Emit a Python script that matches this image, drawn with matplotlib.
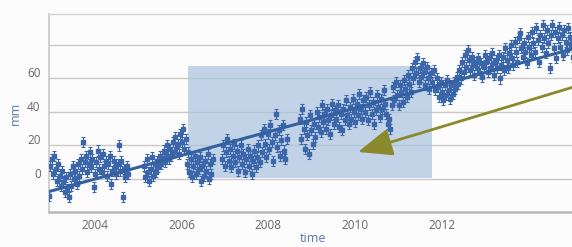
import numpy as np
import matplotlib.pyplot as plt
import matplotlib.transforms as mtransforms
from matplotlib.patches import Rectangle

# measured values (mm), grouped by recording period: (start year, end year, values)
seg_2003 = (2002.95, 2004.77, [
    -10, 8, 12, 3, 14, 6, -1, 9, 2, -4, 5, -2, -8, 1, -6, -11, 3, -4, 8, 0,
    5, -3, 9, 2, 12, 6, 22, 10, 14, 4, 9, 16, 7, 12, -5, 3, 10, 17, 6, 13,
    4, 15, 8, 11, 2, 9, 14, -3, 5, 11, 7, 3, 9, 20, 5, 11, -11, 6, 1, 8, 3])
seg_2005 = (2005.14, 2006.72, [
    8, 1, 12, 4, -1, 6, 13, 2, 9, 4, 11, 7, 14, 9, 12, 17, 10, 15, 20, 12,
    18, 14, 22, 16, 25, 19, 21, 15, 27, 22, 30, 18, 24, 9, 16, 4, 12, 1, 8, 14,
    3, 10, 6, 13, -1, 8, 2, 11, 5, 15, 0, 9, 3, 12])
seg_2007 = (2006.93, 2008.42, [
    12, 20, 8, 16, 24, 11, 18, 7, 14, 21, 10, 17, 5, 13, 20, 9, 15, 4, 12, 18,
    8, 14, 3, 11, 17, 7, 13, 20, 10, 26, 16, 30, 21, 13, 27, 18, 32, 22, 11, 26,
    39, 19, 29, 14, 23, 32, 17, 12, 24])
seg_2009 = (2008.72, 2009.56, [
    36, 24, 42, 30, 18, 34, 26, 15, 38, 29, 21, 33, 25, 40, 31, 37, 28, 44, 34, 39,
    30, 42, 35, 27, 38, 45, 33, 41, 36])
seg_2010 = (2009.60, 2011.77, [
    44, 31, 39, 29, 42, 35, 47, 38, 33, 43, 36, 48, 40, 34, 45, 38, 51, 42, 36, 47,
    40, 49, 35, 44, 52, 39, 46, 33, 41, 50, 43, 37, 48, 42, 53, 45, 39, 33, 36, 30,
    44, 55, 47, 58, 50, 44, 56, 52, 46, 59, 54, 49, 62, 57, 52, 66, 60, 70, 63, 72,
    58, 66, 61, 69, 64, 56, 67, 60, 54, 63, 58])
seg_2012 = (2011.81, 2015.00, [
    65, 53, 60, 55, 49, 58, 52, 47, 56, 50, 59, 53, 48, 56, 51, 58, 54, 61, 57, 65,
    60, 70, 64, 74, 67, 77, 71, 65, 73, 68, 62, 70, 66, 72, 63, 69, 61, 67, 74, 70,
    64, 72, 66, 75, 69, 62, 71, 66, 74, 60, 68, 73, 65, 78, 71, 66, 75, 80, 72, 68,
    82, 76, 70, 84, 87, 78, 73, 81, 76, 69, 85, 79, 74, 88, 81, 76, 90, 83, 70, 86,
    79, 92, 84, 75, 89, 81, 66, 86, 92, 78, 88, 72, 84, 91, 79, 86, 74, 89, 82, 77,
    90, 85, 80, 73])
segments = [seg_2003, seg_2005, seg_2007, seg_2009, seg_2010, seg_2012]
err_mm = 3

# fitted trend
trend_years = [2002.95, 2015.12]
trend_mm = [-7.5, 78.5]

# highlighted window
box_years = (2006.15, 2011.77)
box_mm = (0.8, 67.6)

xticks = [2004, 2006, 2008, 2010, 2012]
yticks = [0, 20, 40, 60, 80]
ylabels = ["0", "20", "40", "60", ""]

plt.rcParams['font.family'] = ['Open Sans', 'DejaVu Sans']

fig = plt.figure(figsize=(5.72, 2.47), dpi=100)
fig.patch.set_facecolor('#fcfcfd')
ax = fig.add_axes([49 / 572, 1 - 212 / 247, 1 - 49 / 572 + 0.01, 198 / 247])
ax.set_facecolor('#fcfcfd')

blue = '#3b67aa'
for start, end, vals in segments:
    t = np.linspace(start, end, len(vals))
    ax.errorbar(t, vals, yerr=err_mm, fmt='s', ms=3.4, color=blue, mfc=blue, mec=blue,
                elinewidth=0.8, capsize=1.3, capthick=0.8, zorder=3)

ax.plot(trend_years, trend_mm, color='#34609f', lw=2.2, zorder=4)

ax.add_patch(Rectangle((box_years[0], box_mm[0]), box_years[1] - box_years[0],
                       box_mm[1] - box_mm[0], facecolor='#aac2de', alpha=0.7,
                       edgecolor='none', zorder=2))

ax.set_xlim(2002.95, 2015.12)
ax.set_ylim(-19.7, 98.5)
ax.set_xticks(xticks)
ax.set_xticklabels([str(x) for x in xticks])
ax.set_yticks(yticks)
ax.set_yticklabels(ylabels)
ax.grid(axis='y', color='#cdc6c4', lw=1.0, zorder=1)
ax.set_axisbelow(True)
ax.tick_params(length=0, labelsize=8.5, labelcolor='#6e6464', pad=5)
ax.tick_params(axis='y', pad=6)
offset = mtransforms.ScaledTranslation(0, 6 / 100, fig.dpi_scale_trans)
for lab in ax.get_yticklabels():
    lab.set_transform(lab.get_transform() + offset)

for side in ['top', 'right']:
    ax.spines[side].set_color('#d8d4d4')
    ax.spines[side].set_linewidth(1)
ax.spines['left'].set_color('#c9c6c6')
ax.spines['left'].set_linewidth(1.2)
ax.spines['bottom'].set_color('#b8b8bc')
ax.spines['bottom'].set_linewidth(1.8)

ax.set_ylabel('mm', color='#5a78ad', fontsize=9, labelpad=4)
ax.set_xlabel('time', color='#5a78ad', fontsize=9, labelpad=0)

ax.annotate('', xy=(358 / 572, 1 - 152 / 247), xycoords='figure fraction',
            xytext=(1.02, 1 - 84 / 247), textcoords='figure fraction',
            arrowprops=dict(arrowstyle='-|>,head_length=2.1,head_width=0.85',
                            color='#8a892c', lw=2.0, shrinkA=0, shrinkB=0),
            zorder=6)

fig.savefig('out.png', dpi=100, facecolor=fig.get_facecolor())
